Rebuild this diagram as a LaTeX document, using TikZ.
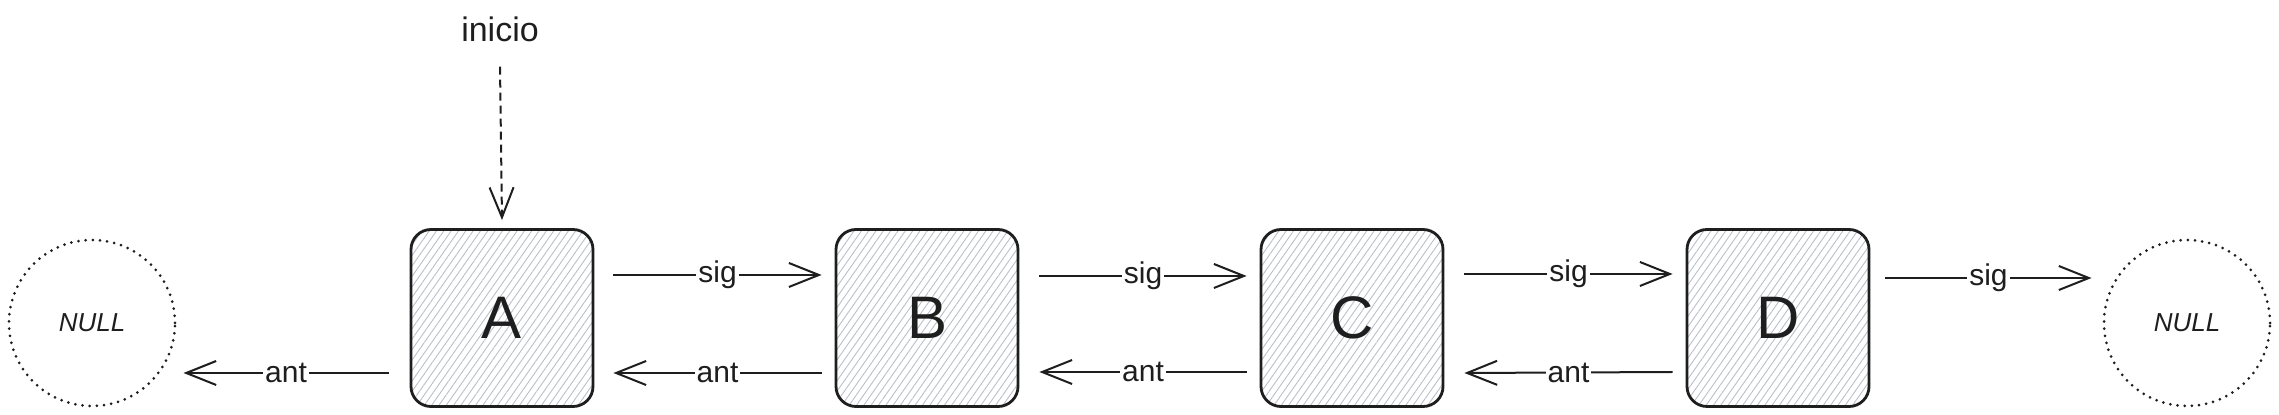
\documentclass[tikz,border=0pt]{standalone}
\usepackage{fontspec}
\setmainfont{Liberation Sans}
\usetikzlibrary{arrows.meta,patterns.meta}
\definecolor{ink}{HTML}{1E1E1E}
\definecolor{hatch}{HTML}{B9BFCA}
\begin{document}
\begin{tikzpicture}[x=0.5pt,y=-0.5pt,
 box/.style={draw=ink,line width=1.4pt,rounded corners=10pt,minimum width=91pt,minimum height=88.5pt,inner sep=0pt,
   pattern={Lines[angle=55,distance=3pt,line width=0.45pt]},pattern color=hatch,
   font=\fontsize{30}{36}\selectfont,text=ink},
 nullc/.style={circle,draw=ink,line width=1.5pt,dash pattern=on 0pt off 3.6pt,line cap=round,
   minimum size=83pt,inner sep=0pt,font=\fontsize{13}{16}\selectfont\itshape,text=ink},
 arr/.style={draw=ink,line width=1pt,-{Straight Barb[length=15pt,width=12pt,line width=1pt]}},
 dsh/.style={dash pattern=on 4pt off 2.5pt},
 lab/.style={fill=white,inner sep=1pt,font=\fontsize{15}{18}\selectfont,text=ink}]
\useasboundingbox (0,0) rectangle (2279,415);
\node[box] (A) at (502,318) {A};
\node[box] (B) at (927,318) {B};
\node[box] (C) at (1352,318) {C};
\node[box] (D) at (1778,318) {D};
\node[nullc] (N1) at (92,323) {NULL};
\node[nullc] (N2) at (2187,323) {NULL};
\node[text=ink,font=\fontsize{17}{20}\selectfont] (ini) at (500,29) {inicio};
% inicio pointer
\draw[arr,dsh] ([yshift=-9pt]ini.south) -- ([yshift=4.5pt]A.north);
% sig arrows
\draw[arr] ([xshift=10pt,yshift=21.5pt]A.east) -- node[lab]{sig} ([xshift=-6.5pt,yshift=21.5pt]B.west);
\draw[arr] ([xshift=10pt,yshift=21pt]B.east) -- node[lab]{sig} ([xshift=-6.5pt,yshift=21pt]C.west);
\draw[arr] ([xshift=10pt,yshift=22pt]C.east) -- node[lab]{sig} ([xshift=-6.5pt,yshift=22pt]D.west);
\draw[arr] ([xshift=7.5pt,yshift=20pt]D.east) -- node[lab]{sig} ([xshift=-5.5pt,yshift=22.5pt]N2.west);
% ant arrows
\draw[arr] ([xshift=-6.5pt,yshift=-27.5pt]B.west) -- node[lab]{ant} ([xshift=10pt,yshift=-27.5pt]A.east);
\draw[arr] ([xshift=-6.5pt,yshift=-27pt]C.west) -- node[lab]{ant} ([xshift=10pt,yshift=-27pt]B.east);
\draw[arr] ([xshift=-6.5pt,yshift=-27pt]D.west) -- node[lab]{ant} ([xshift=10pt,yshift=-27.5pt]C.east);
\draw[arr] ([xshift=-11pt,yshift=-27.5pt]A.west) -- node[lab]{ant} ([xshift=3.5pt,yshift=-25pt]N1.east);
\end{tikzpicture}
\end{document}
